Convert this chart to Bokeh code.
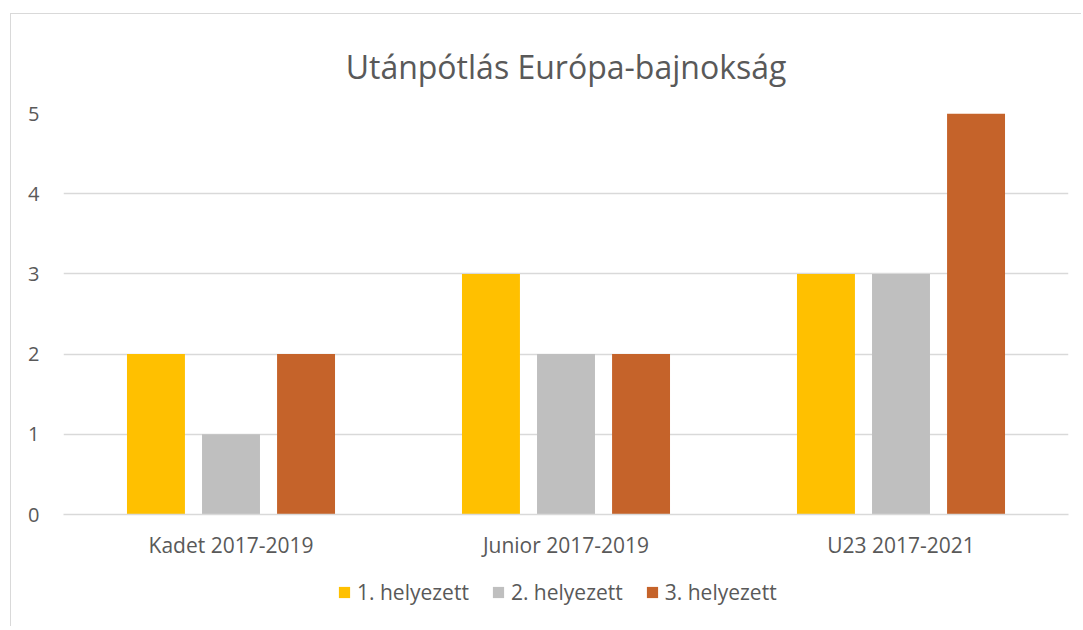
from bokeh.plotting import figure
from bokeh.layouts import column
from bokeh.models import ColumnDataSource, FactorRange, Legend, LegendItem, Title
from bokeh.transform import dodge
from bokeh.embed import file_html
from bokeh.resources import INLINE

categories = ["Kadet 2017-2019", "Junior 2017-2019", "U23 2017-2021"]
series_names = ["1. helyezett", "2. helyezett", "3. helyezett"]
first = [2, 3, 3]
second = [1, 2, 3]
third = [2, 2, 5]
colors = ["#FFC000", "#BFBFBF", "#C5632A"]

source = ColumnDataSource(data=dict(cat=categories, s1=first, s2=second, s3=third))

FONT = "Open Sans"
TXT = "#595959"

p = figure(
    x_range=FactorRange(factors=categories, range_padding=0),
    y_range=(0, 5),
    width=1070, height=547,
    output_backend="svg", toolbar_location=None,
    min_border_left=52, min_border_right=13, min_border_top=99, min_border_bottom=45,
    outline_line_color=None,
)

p.title = Title(text="Utánpótlás Európa-bajnokság", align="center",
                text_font=FONT, text_font_size="32px", text_font_style="normal",
                text_color=TXT, standoff=51)

for key, off, col in zip(["s1", "s2", "s3"], [-0.224, 0.0, 0.224], colors):
    p.vbar(x=dodge("cat", off, range=p.x_range), top=key, width=0.173,
           source=source, color=col, line_color=None)

p.xgrid.grid_line_color = None
p.ygrid.grid_line_color = "#d9d9d9"
p.ygrid.grid_line_width = 1.3

p.yaxis.ticker = [0, 1, 2, 3, 4, 5]
p.yaxis.axis_line_color = None
p.yaxis.major_tick_line_color = None
p.yaxis.minor_tick_line_color = None
p.yaxis.major_label_text_font = FONT
p.yaxis.major_label_text_font_size = "20px"
p.yaxis.major_label_text_color = TXT
p.yaxis.major_label_standoff = 18

p.xaxis.axis_line_color = "#d9d9d9"
p.xaxis.axis_line_width = 1.3
p.xaxis.major_tick_line_color = None
p.xaxis.minor_tick_line_color = None
p.xaxis.major_label_text_font = FONT
p.xaxis.major_label_text_font_size = "21px"
p.xaxis.major_label_text_color = TXT
p.xaxis.major_label_standoff = 10

# legend strip below the chart
lf = figure(width=1070, height=65, output_backend="svg", toolbar_location=None,
            min_border=0, outline_line_color=None, x_range=(0, 1), y_range=(0, 1))
lf.axis.visible = False
lf.grid.visible = False
items = []
for name, col in zip(series_names, colors):
    dummy = ColumnDataSource(data=dict(l=[-10.0], r=[-9.0], b=[-10.0], t=[-9.0]))
    r = lf.quad(left="l", right="r", bottom="b", top="t", source=dummy,
                color=col, line_color=None)
    items.append(LegendItem(label=name, renderers=[r]))

legend = Legend(
    items=items, orientation="horizontal", location=(274, 20),
    label_text_font=FONT, label_text_font_size="21px", label_text_color=TXT,
    glyph_width=14, glyph_height=14, spacing=22, label_standoff=6,
    border_line_color=None, background_fill_alpha=0, padding=0, margin=0,
)
lf.add_layout(legend, "center")

layout = column(p, lf, spacing=0, margin=(13, 0, 0, 10))
layout.styles = {"border-top": "1px solid #d9d9d9", "border-left": "1px solid #d9d9d9"}
open("out.html", "w").write(file_html(layout, INLINE))
